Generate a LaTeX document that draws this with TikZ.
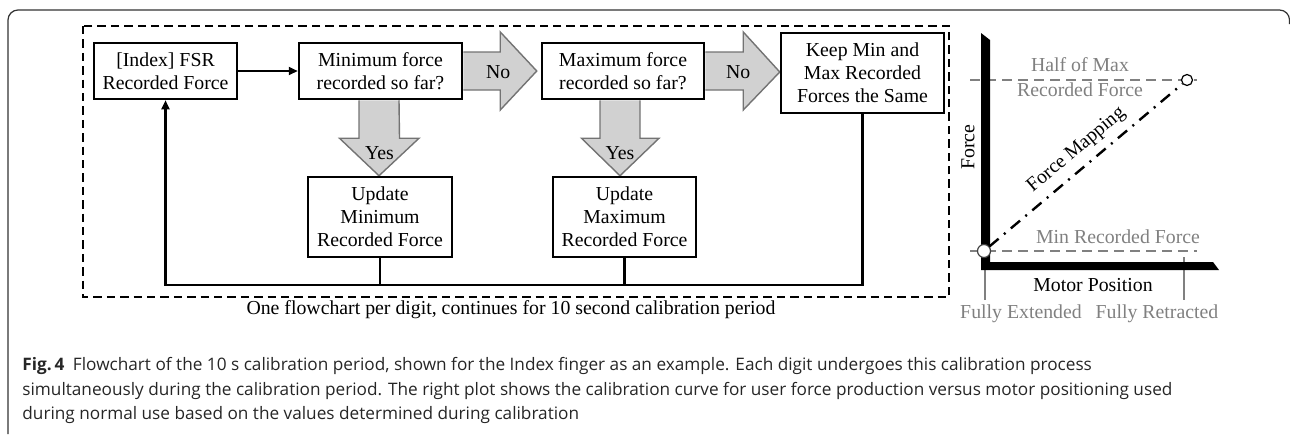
\documentclass[tikz,border=0pt]{standalone}
\usepackage{fontspec}
\setmainfont{Liberation Serif}
\newfontfamily\capfont{Open Sans}
\usepackage{tikz}
\usetikzlibrary{arrows.meta, calc, backgrounds}

\begin{document}
\begin{tikzpicture}[
x=0.5pt, y=-0.5pt,
texts/.style = {font=\fontsize{9.9}{11.4}\selectfont, text=black},
greytexts/.style = {texts, text=black!50},
stepbox/.style = {texts, draw, line width=1.25pt, align=center, inner sep=0pt},
bigarrow/.style = {draw=black!55, line width=0.7pt, fill=black!18, line join=miter},
flowline/.style = {line width=1.1pt},
flowtip/.style = {flowline, -{Triangle[length=4.5pt, width=4pt]}},
dashframe/.style = {line width=1.1pt, dash pattern=on 4.2pt off 2.5pt},
guideline/.style = {draw=black!50, line width=1.2pt, dash pattern=on 5pt off 3pt},
tickline/.style = {draw=black!50, line width=1pt},
mapline/.style = {line width=1.2pt, dash pattern=on 6pt off 3.5pt on 1pt off 3.5pt},
endpoint/.style = {circle, draw=black!75, line width=0.6pt, fill=white, inner sep=0pt},
capt/.style = {font=\capfont\fontsize{8.6}{12.3}\selectfont, text=black!85}
]
\useasboundingbox (0,0) rectangle (1290,434);
\draw[black!80, line width=0.6pt, rounded corners=5pt] (8,434) -- (8,10) -- (1289.5,10) -- (1289.5,24);

% flowchart
\node[stepbox, minimum width=71.5pt, minimum height=28pt] (fsr) at (165.5,71) {[Index] FSR\\Recorded Force};
\node[stepbox, minimum width=81.5pt, minimum height=28pt] (minq) at (380.5,71) {Minimum force\\recorded so far?};
\node[stepbox, minimum width=81pt, minimum height=28pt] (maxq) at (623,71) {Maximum force\\recorded so far?};
\node[stepbox, minimum width=81.5pt, minimum height=40pt] (keep) at (862.5,73) {Keep Min and\\Max Recorded\\Forces the Same};
\node[stepbox, minimum width=72pt, minimum height=40pt] (updmin) at (380,217) {Update\\Minimum\\Recorded Force};
\node[stepbox, minimum width=71.5pt, minimum height=40pt] (updmax) at (624.5,217) {Update\\Maximum\\Recorded Force};

\begin{scope}[on background layer]
\draw[bigarrow] ($(minq.east)+(0,-19)$) -- ++(37,0) -- ++(0,-20) -- ($(maxq.west)+(-4,0)$)
  -- ($(minq.east)+(37,39)$) -- ++(0,-20) -- ($(minq.east)+(0,19)$);
\draw[bigarrow] ($(maxq.east)+(0,-19)$) -- ++(38,0) -- ++(0,-20) -- ($(keep.west)+(0,-1)$)
  -- ($(maxq.east)+(38,39)$) -- ++(0,-20) -- ($(maxq.east)+(0,19)$);
\draw[bigarrow] ($(minq.south)+(-21.5,0)$) -- ++(0,38) -- ++(-19.5,0) -- ($(updmin.north)+(-1,0)$)
  -- ($(minq.south)+(38.5,38)$) -- ++(-19.5,0) -- ($(minq.south)+(18.5,0)$);
\draw[bigarrow] ($(maxq.south)+(-23,0)$) -- ++(0,38) -- ++(-18.5,0) -- ($(updmax.north)+(-4.5,0)$)
  -- ($(maxq.south)+(36,38)$) -- ++(-19,0) -- ($(maxq.south)+(17,0)$);
\end{scope}
\node[texts] (no1) at ($(minq.east)+(35,1)$) {No};
\node[texts] (no2) at ($(maxq.east)+(33,1)$) {No};
\node[texts] (yes1) at ($(minq.south)+(-1,53)$) {Yes};
\node[texts] (yes2) at ($(maxq.south)+(-3,53)$) {Yes};

\coordinate (base) at (0,285);
\draw[flowtip] (fsr) -- (minq);
\draw[flowtip] (keep.south) -- (keep.south |- base) -| (fsr.south);
\draw[flowline] (updmin.south) -- (updmin.south |- base);
\draw[flowline] (updmax.south) -- (updmax.south |- base);

\draw[dashframe] (83,26) rectangle (949,297);
\node[texts] (period) at (511,310) {One flowchart per digit, continues for 10 second calibration period};

% calibration plot
\draw[guideline] (970,80) -- (1197,80);
\draw[guideline] (970,251) -- (1197,251);
\draw[tickline] (985,257) -- (985,300);
\draw[tickline] (1184,257) -- (1184,300);
\fill (981,33) -- (990,40) -- (990,262) -- (1213,262) -- (1219,270) -- (981,270) -- cycle;
\node[endpoint, minimum size=6.5pt] (minpt) at (984,251) {};
\node[endpoint, minimum size=5.5pt, draw=black] (maxpt) at (1187,80) {};
\draw[mapline] (minpt) -- node[texts, sloped, above=0.5pt, pos=0.51] (maplabel) {Force Mapping} (maxpt);

\node[greytexts, align=center] (halfmax) at (1080,77.5) {Half of Max\\[1.2pt]Recorded Force};
\node[greytexts] (minrec) at (1118,237) {Min Recorded Force};
\node[texts, rotate=90] (forcelab) at (968,147) {Force};
\node[texts] (motorlab) at (1093,285) {Motor Position};
\node[greytexts] (extlab) at (1021,314) {Fully Extended};
\node[greytexts] (retlab) at (1157,314) {Fully Retracted};

% caption
\node[capt, anchor=north west, align=left, inner sep=0pt] (caption) at (22,357)
  {\textbf{Fig.\,4}\enspace Flowchart of the 10 s calibration period, shown for the Index finger as an example. Each digit undergoes this calibration process\\
   simultaneously during the calibration period. The right plot shows the calibration curve for user force production versus motor positioning used\\
   during normal use based on the values determined during calibration};
\end{tikzpicture}
\end{document}
